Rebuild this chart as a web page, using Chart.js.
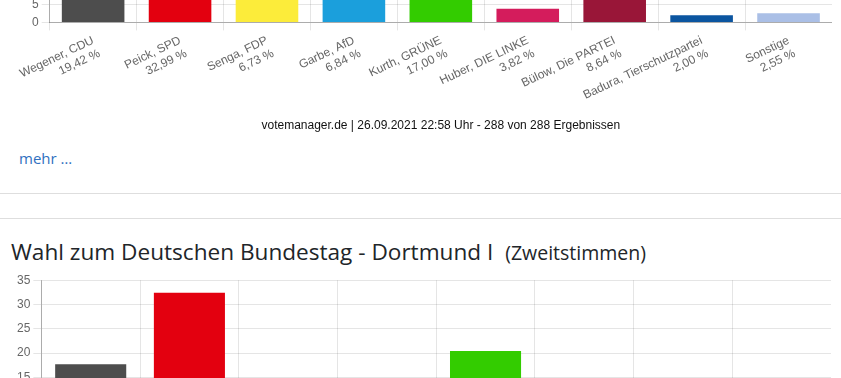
<!DOCTYPE html>
<html>
<head>
<meta charset="utf-8">
<script src="https://cdn.jsdelivr.net/npm/chart.js@4/dist/chart.umd.min.js"></script>
<style>
  html, body { margin: 0; padding: 0; background: #fff; width: 841px; height: 378px; overflow: hidden; }
  body { position: relative; font-family: "Open Sans", "Noto Sans", sans-serif; }
  #c1wrap { position: absolute; left: 16px; top: -114px; width: 816px; height: 257px; }
  #c2wrap { position: absolute; left: 14px; top: 270px; width: 817px; height: 223px; }
  #more { position: absolute; left: 19px; top: 148px; font-size: 15px; color: #2f70c0; }
  .hr { position: absolute; left: 0; width: 841px; height: 1px; background: #dedede; }
  #title { position: absolute; left: 11px; top: 236px; font-size: 22.6px; color: #212529; white-space: nowrap; }
  #title small { font-size: 19.5px; margin-left: 6px; }
</style>
</head>
<body>
<div id="c1wrap"><canvas id="c1"></canvas></div>
<div id="more">mehr …</div>
<div class="hr" style="top:193px"></div>
<div class="hr" style="top:218px"></div>
<div id="title">Wahl zum Deutschen Bundestag - Dortmund I <small>(Zweitstimmen)</small></div>
<div id="c2wrap"><canvas id="c2"></canvas></div>
<script>
// ---- Chart 1: Erststimmen ----
const candidates1 = ["Wegener, CDU", "Peick, SPD", "Senga, FDP", "Garbe, AfD", "Kurth, GRÜNE", "Huber, DIE LINKE", "Bülow, Die PARTEI", "Badura, Tierschutzpartei", "Sonstige"];
const values1 = [19.42, 32.99, 6.73, 6.84, 17.00, 3.82, 8.64, 2.00, 2.55];
const colors1 = ["#4d4d4d", "#e3000f", "#fcec3a", "#1b9fdc", "#33cc00", "#d41c5c", "#991638", "#0b55a0", "#aabfe6"];
const source1 = "votemanager.de | 26.09.2021 22:58 Uhr - 288 von 288 Ergebnissen";

// ---- Chart 2: Zweitstimmen ----
const parties2 = ["CDU", "SPD", "FDP", "AfD", "GRÜNE", "DIE LINKE", "Die PARTEI", "Sonstige"];
const values2 = [17.7, 32.4, 9.9, 6.4, 20.4, 4.4, 1.8, 7.0];
const colors2 = ["#4d4d4d", "#e3000f", "#fcec3a", "#1b9fdc", "#33cc00", "#d41c5c", "#991638", "#aabfe6"];

const yTicks = [0, 5, 10, 15, 20, 25, 30, 35];

function fmt(v) { return v.toFixed(2).replace('.', ',') + ' %'; }

Chart.defaults.font.family = "'Liberation Sans', Arial, Helvetica, sans-serif";
Chart.defaults.font.size = 12;
Chart.defaults.color = '#666';
Chart.defaults.animation = false;

function makeChart(id, names, values, colors, title) {
  return new Chart(document.getElementById(id), {
    type: 'bar',
    data: {
      labels: names.map((n, i) => [n, fmt(values[i])]),
      datasets: [{ data: values, backgroundColor: colors, borderWidth: 0 }]
    },
    options: {
      responsive: true,
      maintainAspectRatio: false,
      layout: { padding: 0 },
      plugins: {
        legend: { display: false },
        tooltip: { enabled: false },
        title: title ? {
          display: true, text: title, position: 'bottom', fullSize: false,
          color: '#111', font: { size: 12, weight: 'normal' }, padding: { top: 0, bottom: 10 }
        } : { display: false }
      },
      scales: {
        x: {
          grid: { color: 'rgba(0,0,0,0.1)', offset: true },
          border: { color: 'rgba(0,0,0,0.25)' },
          ticks: { color: '#666', autoSkip: false }
        },
        y: {
          min: yTicks[0], max: yTicks[yTicks.length - 1],
          afterBuildTicks: (s) => { s.ticks = yTicks.map(v => ({ value: v })); },
          grid: { color: 'rgba(0,0,0,0.1)' },
          border: { color: 'rgba(0,0,0,0.25)' },
          ticks: { color: '#666' }
        }
      }
    }
  });
}

makeChart('c1', candidates1, values1, colors1, source1);
makeChart('c2', parties2, values2, colors2, null);
</script>
</body>
</html>
